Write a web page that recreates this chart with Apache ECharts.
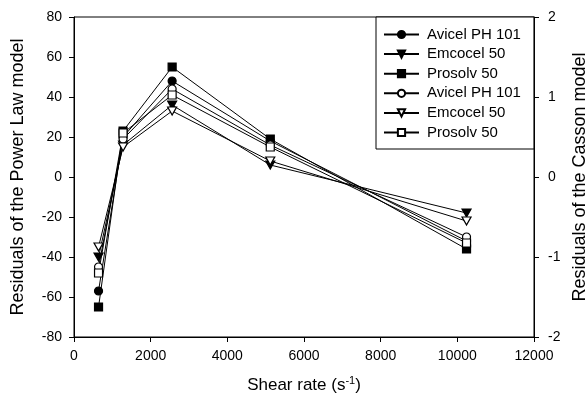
<!DOCTYPE html>
<html>
<head>
<meta charset="utf-8">
<script src="https://cdn.jsdelivr.net/npm/echarts@6/dist/echarts.min.js"></script>
<style>
  html, body { margin: 0; padding: 0; background: #fff; }
  #chart { width: 588px; height: 403px; }
</style>
</head>
<body>
<div id="chart"></div>
<script>
// Shear rates (s^-1)
const shearRates = [640, 1280, 2560, 5120, 10240];

// Power Law model residuals (left axis)
const plAvicel  = [-57, 20, 48, 18, -32];
const plEmcocel = [-40, 16, 36, 6, -18];
const plProsolv = [-65, 23, 55, 19, -36];

// Casson model residuals (right axis)
const caAvicel  = [-1.125, 0.475, 1.1, 0.4, -0.75];
const caEmcocel = [-0.875, 0.375, 0.825, 0.2, -0.55];
const caProsolv = [-1.2, 0.55, 1.025, 0.375, -0.825];

const xTicks = { min: 0, max: 12000, interval: 2000 };
const leftTicks = { min: -80, max: 80, interval: 20 };
const rightTicks = { min: -2, max: 2, interval: 1 };

const FONT = 'Liberation Sans, Arial, sans-serif';
const downTri = 'path://M0,0L10,0L5,9Z';

function pairs(values) {
  return shearRates.map((x, i) => [x, values[i]]);
}

// series label shown in the legend (two series share each material name)
const labels = {
  'Avicel PH 101 (PL)': 'Avicel PH 101',
  'Emcocel 50 (PL)': 'Emcocel 50',
  'Prosolv 50 (PL)': 'Prosolv 50',
  'Avicel PH 101 (Casson)': 'Avicel PH 101',
  'Emcocel 50 (Casson)': 'Emcocel 50',
  'Prosolv 50 (Casson)': 'Prosolv 50'
};

function makeSeries(name, values, axis, symbol, fill, size) {
  return {
    name: name,
    type: 'line',
    yAxisIndex: axis,
    data: pairs(values),
    symbol: symbol,
    symbolSize: size,
    showAllSymbol: true,
    animation: false,
    lineStyle: { color: '#000', width: 1 },
    itemStyle: { color: fill, borderColor: '#000', borderWidth: 1.2 },
    emphasis: { disabled: true }
  };
}

const series = [
  makeSeries('Avicel PH 101 (PL)', plAvicel, 0, 'circle', '#000', 8),
  makeSeries('Emcocel 50 (PL)', plEmcocel, 0, downTri, '#000', [9, 8]),
  makeSeries('Prosolv 50 (PL)', plProsolv, 0, 'rect', '#000', 8),
  makeSeries('Avicel PH 101 (Casson)', caAvicel, 1, 'circle', '#fff', 8),
  makeSeries('Emcocel 50 (Casson)', caEmcocel, 1, downTri, '#fff', [9, 8]),
  makeSeries('Prosolv 50 (Casson)', caProsolv, 1, 'rect', '#fff', 8)
];

const axisLine = { show: true, onZero: false, lineStyle: { color: '#000', width: 1 } };
const axisTick = { show: true, inside: false, length: 5, lineStyle: { color: '#000' } };
const tickFont = { color: '#000', fontSize: 14, fontFamily: FONT };
const nameFont = { color: '#000', fontSize: 18, fontFamily: FONT };

const chart = echarts.init(document.getElementById('chart'), null, { renderer: 'canvas' });
chart.setOption({
  backgroundColor: '#fff',
  animation: false,
  grid: {
    left: 74, right: 54, top: 17, bottom: 66,
    outerBoundsMode: 'none',
    containLabel: false,
    show: true, borderColor: '#000', borderWidth: 1, backgroundColor: 'transparent'
  },
  legend: {
    orient: 'vertical',
    left: 376, top: 17,
    padding: [10, 13, 9, 7],
    itemWidth: 35, itemHeight: 9, itemGap: 4.6,
    borderColor: '#000', borderWidth: 1,
    backgroundColor: '#fff',
    textStyle: { color: '#000', fontSize: 15, fontFamily: FONT, padding: [0, 0, 0, 3] },
    formatter: name => labels[name],
    data: series.map(s => s.name),
    selectedMode: false
  },
  xAxis: {
    type: 'value',
    min: xTicks.min, max: xTicks.max, interval: xTicks.interval,
    axisLine: axisLine,
    axisTick: axisTick,
    splitLine: { show: false },
    axisLabel: Object.assign({}, tickFont, { margin: 12, formatter: v => String(v) }),
    name: 'Shear rate (s{sup|-1})',
    nameLocation: 'middle',
    nameGap: 38,
    nameTextStyle: {
      color: '#000', fontSize: 17, fontFamily: FONT,
      rich: { sup: { fontSize: 11, verticalAlign: 'top', padding: [0, 0, 9, 0], fontFamily: FONT, color: '#000' } }
    }
  },
  yAxis: [
    {
      type: 'value',
      position: 'left',
      min: leftTicks.min, max: leftTicks.max, interval: leftTicks.interval,
      axisLine: axisLine,
      axisTick: axisTick,
      splitLine: { show: false },
      axisLabel: Object.assign({}, tickFont, { margin: 12 }),
      name: 'Residuals of the Power Law model',
      nameLocation: 'middle',
      nameRotate: 90,
      nameGap: 47,
      nameTextStyle: nameFont
    },
    {
      type: 'value',
      position: 'right',
      min: rightTicks.min, max: rightTicks.max, interval: rightTicks.interval,
      axisLine: axisLine,
      axisTick: axisTick,
      splitLine: { show: false },
      axisLabel: Object.assign({}, tickFont, { margin: 14 }),
      name: 'Residuals of the Casson model',
      nameLocation: 'middle',
      nameRotate: 90,
      nameGap: 35,
      nameTextStyle: nameFont
    }
  ],
  series: series
});
</script>
</body>
</html>
